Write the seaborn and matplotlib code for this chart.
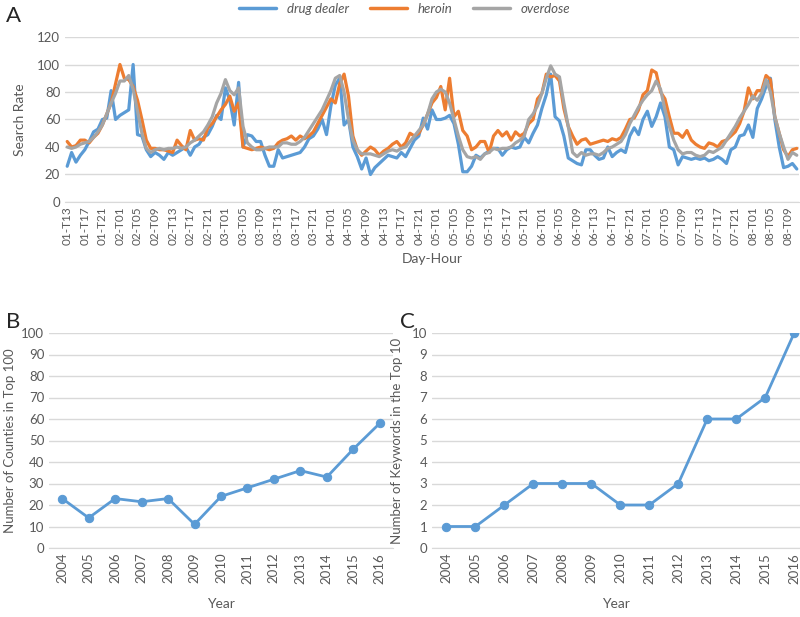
import numpy as np
import pandas as pd
import matplotlib
matplotlib.use("Agg")
import matplotlib.pyplot as plt
import seaborn as sns

# ---- panel A : hourly search rate, 01-T13 .. 08-T11 ----
drug_dealer = [
    26, 36, 29, 34, 38, 44, 51, 53, 60, 61, 81, 60, 63, 65, 67, 100, 49, 48, 38, 33,
    36, 34, 31, 36, 34, 36, 38, 40, 34, 40, 42, 47, 49, 55, 63, 60, 83, 74, 56, 87,
    40, 49, 48, 44, 44, 34, 26, 26, 38, 32, 33, 34, 35, 36, 40, 46, 48, 53, 60, 49,
    70, 85, 90, 56, 60, 40, 33, 24, 32, 20, 25, 28, 31, 34, 33, 32, 36, 33, 39, 45,
    48, 61, 53, 67, 60, 60, 61, 63, 57, 42, 22, 22, 26, 34, 32, 35, 37, 39, 39, 34,
    38, 40, 39, 40, 47, 43, 50, 56, 68, 78, 93, 62, 59, 48, 32, 30, 28, 27, 38, 38,
    34, 31, 32, 40, 33, 36, 38, 36, 48, 54, 49, 60, 66, 55, 62, 72, 62, 40, 38, 27,
    33, 32, 31, 32, 31, 32, 30, 31, 33, 31, 28, 38, 40, 48, 49, 56, 47, 68, 75, 84,
    90, 60, 40, 25, 26, 28, 24,
]
heroin = [
    44, 40, 41, 45, 45, 43, 47, 50, 56, 64, 72, 86, 100, 90, 89, 84, 74, 60, 45, 39,
    39, 38, 38, 37, 36, 45, 41, 38, 52, 45, 46, 45, 54, 57, 62, 67, 71, 77, 66, 72,
    40, 39, 38, 39, 40, 39, 38, 39, 43, 45, 46, 48, 45, 48, 46, 48, 51, 57, 63, 69,
    75, 72, 86, 93, 77, 48, 38, 34, 37, 40, 38, 34, 37, 39, 42, 44, 40, 43, 50, 48,
    50, 56, 64, 72, 76, 84, 67, 90, 62, 66, 52, 48, 38, 40, 44, 44, 36, 48, 52, 48,
    51, 45, 51, 48, 50, 57, 60, 75, 79, 93, 91, 92, 88, 68, 55, 48, 42, 45, 46, 42,
    43, 44, 45, 44, 46, 45, 47, 53, 60, 61, 67, 78, 81, 96, 94, 80, 75, 62, 50, 50,
    47, 52, 45, 42, 40, 39, 43, 42, 40, 44, 45, 48, 51, 57, 66, 83, 75, 81, 81, 92,
    89, 62, 50, 38, 33, 38, 39,
]
overdose = [
    40, 39, 40, 42, 43, 44, 47, 51, 56, 64, 72, 79, 88, 88, 92, 82, 66, 50, 39, 36,
    38, 39, 38, 39, 39, 40, 39, 40, 43, 45, 48, 51, 56, 62, 72, 79, 89, 81, 78, 83,
    55, 43, 40, 38, 38, 39, 40, 40, 40, 43, 43, 42, 42, 44, 47, 52, 57, 62, 67, 74,
    81, 90, 92, 80, 60, 45, 38, 35, 35, 35, 34, 33, 35, 37, 38, 37, 39, 40, 44, 48,
    52, 56, 64, 75, 80, 82, 80, 72, 60, 48, 38, 33, 32, 33, 31, 35, 36, 39, 38, 39,
    39, 40, 43, 45, 48, 60, 64, 70, 79, 90, 99, 93, 91, 72, 55, 36, 33, 36, 34, 35,
    35, 34, 36, 39, 40, 42, 44, 49, 57, 63, 69, 74, 78, 81, 88, 82, 67, 55, 45, 38,
    35, 36, 36, 34, 33, 34, 37, 36, 38, 40, 45, 50, 55, 61, 66, 71, 77, 74, 79, 89,
    80, 62, 50, 40, 31, 36, 34,
]
series_names = ["drug dealer", "heroin", "overdose"]

# ---- panels B and C : yearly ----
years = [str(y) for y in range(2004, 2017)]
counties_top100 = [23, 14, 23, 21.5, 23, 11, 24, 28, 32, 36, 33, 46, 58]
keywords_top10 = [1, 1, 2, 3, 3, 3, 2, 2, 3, 6, 6, 7, 10]

BLUE, ORANGE, GREY = "#5B9BD5", "#ED7D31", "#A5A5A5"
TXT = "#595959"
GRID = "#D9D9D9"

sns.set_style("white")
plt.rcParams["font.family"] = ["Lato", "DejaVu Sans"]

n_hours = len(drug_dealer)
hour_idx = np.arange(n_hours)
labels = []
for i in hour_idx:
    h = 13 + i
    labels.append(f"{h // 24 + 1:02d}-T{h % 24:02d}")

df_a = pd.DataFrame({
    "idx": np.tile(hour_idx, 3),
    "rate": drug_dealer + heroin + overdose,
    "term": np.repeat(series_names, n_hours),
})
df_b = pd.DataFrame({"pos": np.arange(len(years)), "val": counties_top100})
df_c = pd.DataFrame({"pos": np.arange(len(years)), "val": keywords_top10})

W, H = 800, 617
fig = plt.figure(figsize=(W / 100, H / 100), dpi=100)


def frac(left, top, right, bottom):
    return [left / W, 1 - bottom / H, (right - left) / W, (bottom - top) / H]


def style_axes(ax):
    for s in ["top", "right", "left"]:
        ax.spines[s].set_visible(False)
    ax.spines["bottom"].set_color(GRID)
    ax.grid(axis="y", color=GRID, linewidth=1)
    ax.set_axisbelow(True)
    ax.tick_params(axis="both", length=0, colors=TXT, labelsize=9.5)


# panel A
ax_a = fig.add_axes(frac(65, 37, 799, 202))
sns.lineplot(data=df_a, x="idx", y="rate", hue="term", ax=ax_a,
             palette=[BLUE, ORANGE, GREY], linewidth=2.3, legend=False)
ax_a.set_xlim(-0.5, n_hours - 0.5)
ax_a.set_ylim(0, 120)
ax_a.set_yticks(range(0, 121, 20))
ax_a.set_xticks(hour_idx[::4])
ax_a.set_xticklabels(labels[::4], rotation=90, fontsize=8.5)
style_axes(ax_a)
ax_a.tick_params(axis="x", labelsize=8.5, pad=3)
ax_a.set_xlabel("Day-Hour", color=TXT, fontsize=10, labelpad=6)
ax_a.set_ylabel("Search Rate", color=TXT, fontsize=10, labelpad=8)

handles = [plt.Line2D([], [], color=c, linewidth=2.5) for c in (BLUE, ORANGE, GREY)]
fig.legend(handles, series_names, loc="center", bbox_to_anchor=(405 / W, 1 - 9 / H),
           ncol=3, frameon=False, handlelength=2.8, columnspacing=1.6,
           prop={"style": "italic", "size": 9.5}, labelcolor=TXT)

# panel B
ax_b = fig.add_axes(frac(49, 333, 393, 548))
sns.lineplot(data=df_b, x="pos", y="val", ax=ax_b, color=BLUE, linewidth=2,
             marker="o", markersize=6, markeredgecolor=BLUE)
ax_b.set_xlim(-0.5, len(years) - 0.5)
ax_b.set_ylim(0, 100)
ax_b.set_yticks(range(0, 101, 10))
ax_b.set_xticks(range(len(years)))
ax_b.set_xticklabels(years, rotation=90)
style_axes(ax_b)
ax_b.set_xlabel("Year", color=TXT, fontsize=10, labelpad=10)
ax_b.set_ylabel("Number of Counties in Top 100", color=TXT, fontsize=9.5, labelpad=4)

# panel C
ax_c = fig.add_axes(frac(432, 333, 800, 548))
sns.lineplot(data=df_c, x="pos", y="val", ax=ax_c, color=BLUE, linewidth=2,
             marker="o", markersize=6, markeredgecolor=BLUE)
ax_c.set_xlim(-0.5, len(years) - 0.8)
ax_c.set_ylim(0, 10)
ax_c.set_yticks(range(0, 11, 1))
ax_c.set_xticks(range(len(years)))
ax_c.set_xticklabels(years, rotation=90)
style_axes(ax_c)
ax_c.set_xlabel("Year", color=TXT, fontsize=10, labelpad=10)
ax_c.set_ylabel("Number of Keywords in the Top 10", color=TXT, fontsize=9.5, labelpad=6)

fig.text(6 / W, 1 - 16 / H, "A", fontsize=16, va="center", ha="left")
fig.text(6 / W, 1 - 322 / H, "B", fontsize=16, va="center", ha="left")
fig.text(400 / W, 1 - 322 / H, "C", fontsize=16, va="center", ha="left")

fig.savefig("out.png", dpi=100)
